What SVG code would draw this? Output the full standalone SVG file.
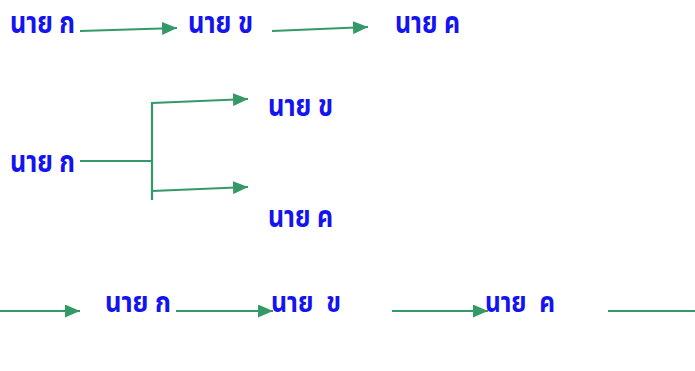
<svg xmlns="http://www.w3.org/2000/svg" width="695" height="371" viewBox="0 0 695 371">
<style>
.t{font-family:"Noto Sans Thai","Noto Sans","DejaVu Sans",sans-serif;font-size:30px;font-weight:bold;fill:#1414f0;white-space:pre}
.t2{font-family:"Noto Sans Thai","Noto Sans","DejaVu Sans",sans-serif;font-size:29px;font-weight:bold;fill:#1414f0;white-space:pre}
.c{stroke:#339966;stroke-width:2.2;fill:none}
</style>
<defs>
<marker id="a" markerWidth="15" markerHeight="13" refX="15" refY="6.5" orient="auto" markerUnits="userSpaceOnUse">
<path d="M0,0 L15,6.5 L0,13 Z" fill="#339966"/>
</marker>
</defs>
<g id="r1a"><text class="t" x="10" y="33" textLength="65" lengthAdjust="spacingAndGlyphs">นาย ก</text></g>
<g id="r1b"><text class="t" x="188" y="33" textLength="65" lengthAdjust="spacingAndGlyphs">นาย ข</text></g>
<g id="r1c"><text class="t" x="395" y="33" textLength="65" lengthAdjust="spacingAndGlyphs">นาย ค</text></g>
<g id="r2a"><text class="t" x="10" y="172" textLength="65" lengthAdjust="spacingAndGlyphs">นาย ก</text></g>
<g id="r2b"><text class="t" x="268" y="116" textLength="65" lengthAdjust="spacingAndGlyphs">นาย ข</text></g>
<g id="r2c"><text class="t" x="268" y="227" textLength="65" lengthAdjust="spacingAndGlyphs">นาย ค</text></g>
<g id="r3a"><text class="t2" x="105" y="312" textLength="66" lengthAdjust="spacingAndGlyphs">นาย ก</text></g>
<g id="r3b"><text class="t2" x="271" y="312" textLength="70" lengthAdjust="spacingAndGlyphs">นาย  ข</text></g>
<g id="r3c"><text class="t2" x="485" y="312" textLength="70" lengthAdjust="spacingAndGlyphs">นาย  ค</text></g>
<g id="connectors">
<path class="c" d="M80,31 L177,28" marker-end="url(#a)"/>
<path class="c" d="M272,31 L368,27" marker-end="url(#a)"/>
<path class="c" d="M80,161 L153,161"/>
<path class="c" d="M152,102 L152,200"/>
<path class="c" d="M152,103 L248,99" marker-end="url(#a)"/>
<path class="c" d="M152,191 L248,187" marker-end="url(#a)"/>
<path class="c" d="M0,311 L80,311" marker-end="url(#a)"/>
<path class="c" d="M176,311 L273,311" marker-end="url(#a)"/>
<path class="c" d="M392,311 L488,311" marker-end="url(#a)"/>
<path class="c" d="M608,311 L695,311"/>
</g>
</svg>
